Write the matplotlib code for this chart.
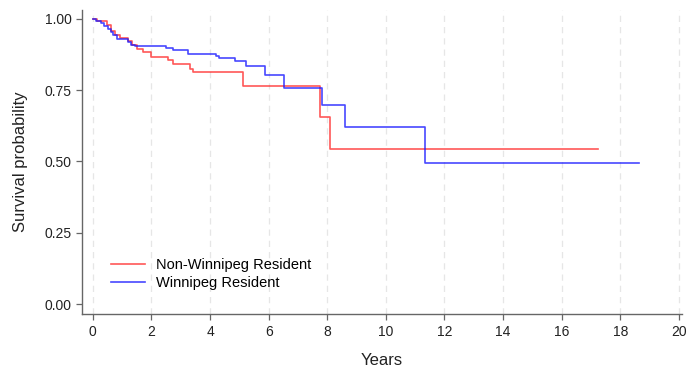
import matplotlib
matplotlib.use("Agg")
import matplotlib.pyplot as plt

plt.rcParams['font.family'] = ['Liberation Sans', 'DejaVu Sans']

# Non-Winnipeg Resident (red) KM curve
red_t = [0.0, 0.13, 0.47, 0.62, 0.75, 0.92, 1.21, 1.32, 1.49, 1.70, 1.98, 2.58, 2.72, 3.32, 3.41, 5.14, 7.76, 8.08, 17.25]
red_s = [1.0, 0.993, 0.979, 0.956, 0.944, 0.932, 0.922, 0.909, 0.894, 0.882, 0.866, 0.854, 0.840, 0.824, 0.812, 0.763, 0.655, 0.545, 0.545]

# Winnipeg Resident (blue) KM curve
blue_t = [0.0, 0.10, 0.28, 0.39, 0.50, 0.62, 0.70, 0.82, 1.21, 1.29, 1.44, 2.50, 2.72, 3.26, 4.21, 4.32, 4.85, 5.23, 5.86, 6.53, 7.82, 8.62, 11.35, 18.63]
blue_s = [1.0, 0.993, 0.985, 0.976, 0.964, 0.955, 0.944, 0.929, 0.918, 0.909, 0.903, 0.897, 0.889, 0.878, 0.871, 0.862, 0.853, 0.836, 0.803, 0.757, 0.698, 0.620, 0.495, 0.495]

labels = ["Non-Winnipeg Resident", "Winnipeg Resident"]
xticks = list(range(0, 21, 2))
yticks = [0.0, 0.25, 0.5, 0.75, 1.0]
ytick_labels = ["0.00", "0.25", "0.50", "0.75", "1.00"]

fig = plt.figure(figsize=(6.95, 3.75), dpi=100)
ax = fig.add_axes([0.118, 0.162, 0.863, 0.811])

ax.step(red_t, red_s, where='post', color='#ff2020', alpha=0.75, lw=1.2, label=labels[0])
ax.step(blue_t, blue_s, where='post', color='#1a1aff', alpha=0.8, lw=1.2, label=labels[1])

ax.set_xlim(-0.37, 20.1)
ax.set_ylim(-0.035, 1.03)
ax.set_xticks(xticks)
ax.set_yticks(yticks)
ax.set_yticklabels(ytick_labels)
for x in xticks:
    ax.axvline(x, color='#e6e6e6', lw=0.9, ls=(0, (5, 4)), zorder=0)

for s in ['top', 'right']:
    ax.spines[s].set_visible(False)
for s in ['left', 'bottom']:
    ax.spines[s].set_color('#666666')
    ax.spines[s].set_linewidth(1.0)
ax.tick_params(axis='both', direction='out', length=4, width=0.9, color='#666666',
               labelsize=10, labelcolor='#222222')

ax.set_ylabel("Survival probability", fontsize=12, color='#222222', labelpad=12)
ax.set_xlabel("Years", fontsize=12, color='#222222', labelpad=10)

ax.legend(loc='lower left', bbox_to_anchor=(0.027, 0.035), frameon=False, fontsize=10.5,
          handlelength=2.3, handletextpad=0.75, labelspacing=0.3)

fig.savefig("out.png", dpi=100)
